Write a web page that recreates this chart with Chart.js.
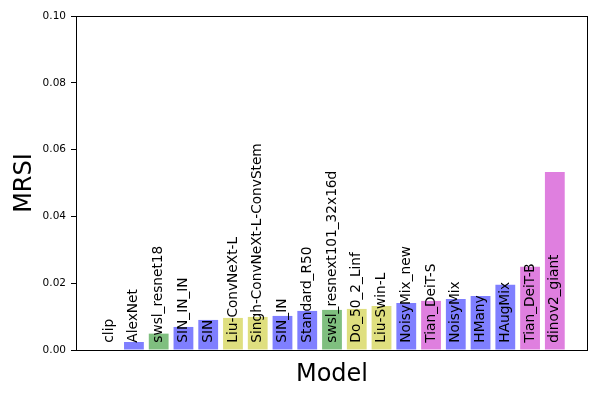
<!DOCTYPE html>
<html>
<head>
<meta charset="utf-8">
<script src="https://cdn.jsdelivr.net/npm/chart.js@4.4.1/dist/chart.umd.min.js"></script>
<style>
html,body{margin:0;padding:0;background:#fff;}
#wrap{width:600px;height:400px;}
</style>
</head>
<body>
<div id="wrap"><canvas id="c" width="600" height="400"></canvas></div>
<script>
const models = ["clip","AlexNet","swsl_resnet18","SIN_IN_IN","SIN","Liu-ConvNeXt-L","Singh-ConvNeXt-L-ConvStem","SIN_IN","Standard_R50","swsl_resnext101_32x16d","Do_50_2_Linf","Liu-Swin-L","NoisyMix_new","Tian_DeiT-S","NoisyMix","HMany","HAugMix","Tian_DeiT-B","dinov2_giant"];
const mrsi = [0.0, 0.0024, 0.0049, 0.0069, 0.0090, 0.0096, 0.0099, 0.0102, 0.0117, 0.0120, 0.0123, 0.0132, 0.0141, 0.0147, 0.0153, 0.0162, 0.0195, 0.0249, 0.0533];
const groups = ["blue","blue","green","blue","blue","yellow","yellow","blue","blue","green","yellow","yellow","blue","magenta","blue","blue","blue","magenta","magenta"];
const yTicks = [0, 0.02, 0.04, 0.06, 0.08, 0.10];
const labelY = 0.0022;

const palette = {blue:"#7f7fff", green:"#7fbf7f", yellow:"#dfdf7f", magenta:"#df7fdf"};
const FONT = "'DejaVu Sans', sans-serif";

const overlay = {
  id: "overlay",
  afterDatasetsDraw(chart) {
    const ctx = chart.ctx, x = chart.scales.x, y = chart.scales.y, a = chart.chartArea;
    ctx.save();
    ctx.fillStyle = "#000";
    ctx.font = "13.7px " + FONT;
    ctx.textAlign = "left";
    ctx.textBaseline = "middle";
    models.forEach((m, i) => {
      ctx.save();
      ctx.translate(x.getPixelForValue(i), y.getPixelForValue(labelY));
      ctx.rotate(-Math.PI / 2);
      ctx.fillText(m, 0, 0);
      ctx.restore();
    });
    ctx.strokeStyle = "#000";
    ctx.lineWidth = 1;
    ctx.strokeRect(Math.round(a.left) + 0.5, Math.round(a.top) + 0.5, Math.round(a.right - a.left) - 1, Math.round(a.bottom - a.top));
    ctx.font = "24px " + FONT;
    ctx.textAlign = "center";
    ctx.textBaseline = "middle";
    ctx.fillText("Model", (a.left + a.right) / 2, 375);
    ctx.save();
    ctx.translate(25, (a.top + a.bottom) / 2);
    ctx.rotate(-Math.PI / 2);
    ctx.fillText("MRSI", 0, 0);
    ctx.restore();
    ctx.restore();
  }
};

new Chart(document.getElementById("c"), {
  type: "bar",
  data: {
    datasets: [{
      data: mrsi.map((v, i) => ({x: i, y: v})),
      backgroundColor: groups.map(g => palette[g]),
      borderWidth: 0,
      categoryPercentage: 1.0,
      barPercentage: 0.8
    }]
  },
  options: {
    responsive: false,
    animation: false,
    devicePixelRatio: 1,
    layout: {padding: {left: 0, top: 16, right: 12, bottom: 50}},
    plugins: {legend: {display: false}, tooltip: {enabled: false}},
    scales: {
      x: {
        type: "linear",
        offset: false,
        min: -1.34,
        max: 19.34,
        display: false,
        afterBuildTicks: s => { s.ticks = models.map((m, i) => ({value: i})); }
      },
      y: {
        min: 0,
        max: 0.10,
        afterFit: s => { s.width = 76; },
        afterBuildTicks: s => { s.ticks = yTicks.map(v => ({value: v})); },
        border: {display: false},
        grid: {drawOnChartArea: false, drawTicks: true, tickLength: 5, color: "#000", lineWidth: 1},
        ticks: {
          color: "#000",
          padding: 5,
          font: {family: FONT, size: 10.5},
          callback: v => Number(v).toFixed(2)
        }
      }
    }
  },
  plugins: [overlay]
});
</script>
</body>
</html>
